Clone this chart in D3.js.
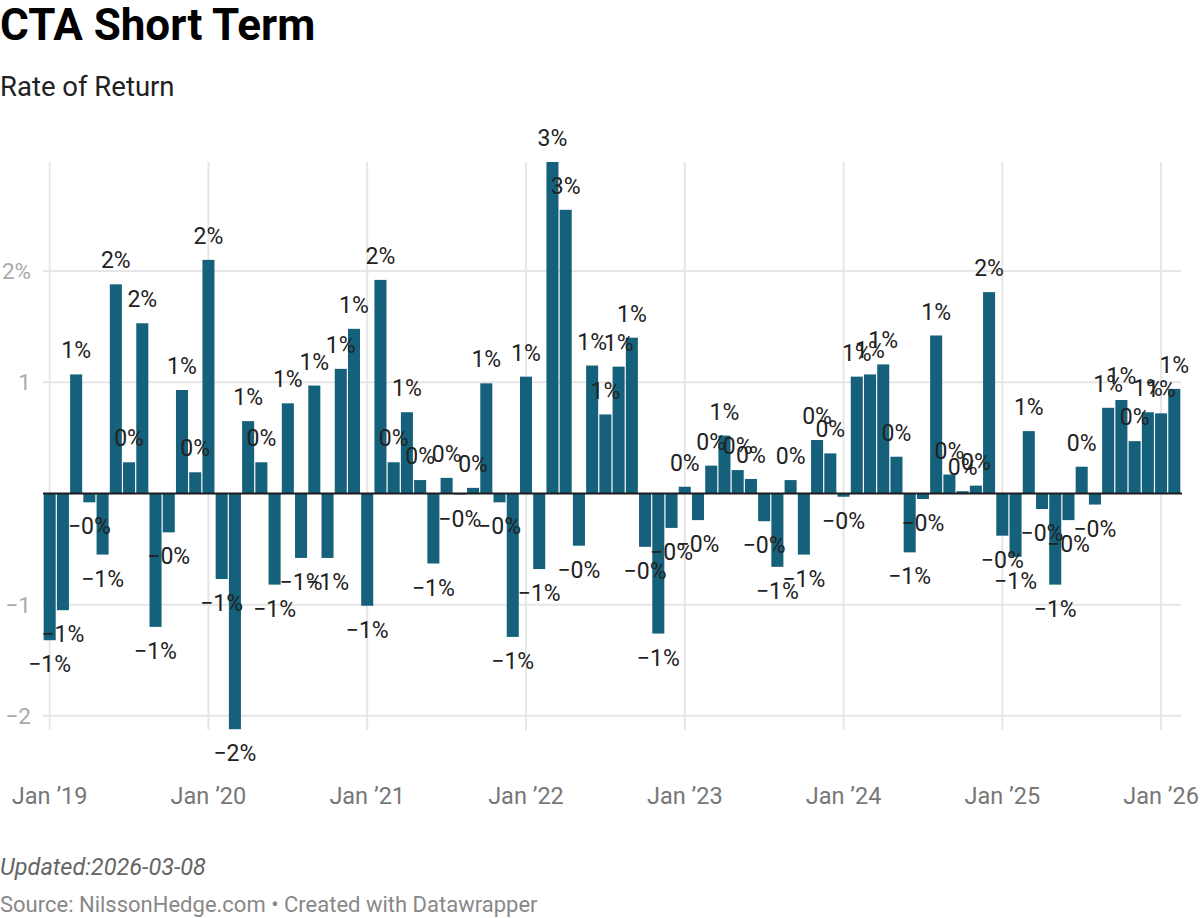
<!DOCTYPE html>
<html>
<head>
<meta charset="utf-8">
<script src="https://cdn.jsdelivr.net/npm/d3@7"></script>
<style>
  body { margin: 0; background: #fff; }
  svg { display: block; font-family: Roboto, 'Noto Sans', sans-serif; }
</style>
</head>
<body>
<div id="svg-container"></div>
<script>
const years = [2019, 2020, 2021, 2022, 2023, 2024, 2025, 2026];

const returns2019 = [-1.32, -1.05, 1.07, -0.08, -0.55, 1.88, 0.28, 1.53, -1.2, -0.35, 0.93, 0.19];
const returns2020 = [2.1, -0.77, -2.12, 0.65, 0.28, -0.82, 0.81, -0.58, 0.97, -0.58, 1.12, 1.48];
const returns2021 = [-1.01, 1.92, 0.28, 0.73, 0.12, -0.63, 0.14, -0.01, 0.05, 0.99, -0.08, -1.29];
const returns2022 = [1.05, -0.68, 2.98, 2.55, -0.47, 1.15, 0.71, 1.14, 1.4, -0.48, -1.26, -0.31];
const returns2023 = [0.06, -0.24, 0.25, 0.52, 0.21, 0.13, -0.25, -0.66, 0.12, -0.55, 0.48, 0.36];
const returns2024 = [-0.03, 1.05, 1.07, 1.16, 0.33, -0.53, -0.05, 1.42, 0.17, 0.02, 0.07, 1.81];
const returns2025 = [-0.38, -0.57, 0.56, -0.14, -0.82, -0.24, 0.24, -0.1, 0.77, 0.84, 0.47, 0.73];
const returns2026 = [0.72, 0.94];

const xTickLabels = ['Jan ’19', 'Jan ’20', 'Jan ’21', 'Jan ’22', 'Jan ’23', 'Jan ’24', 'Jan ’25', 'Jan ’26'];
const yTicks = [-2, -1, 1, 2];

const title = 'CTA Short Term';
const subtitle = 'Rate of Return';
const updated = 'Updated:2026-03-08';
const source = 'Source: NilssonHedge.com • Created with Datawrapper';

const yearlyReturns = [returns2019, returns2020, returns2021, returns2022,
  returns2023, returns2024, returns2025, returns2026];

// one row per month, key like 2019-01
const dataset = yearlyReturns.flatMap((values, i) =>
  values.map((v, m) => ({ key: `${years[i]}-${String(m + 1).padStart(2, '0')}`, year: years[i], month: m, value: v }))
);

const width = 1200;
const height = 918;

const svg = d3.select('#svg-container')
  .append('svg')
  .attr('width', width)
  .attr('height', height);

const xScale = d3
  .scaleBand()
  .domain(dataset.map(d => d.key))
  .range([43, 1181])
  .paddingInner(0.09)
  .paddingOuter(0.05);

const yScale = d3
  .scaleLinear()
  .domain(d3.extent(dataset, d => d.value))
  .range([729.2, 162]);

const xLeft = 43;
const xRight = 1181;

// header
svg.append('text')
  .attr('x', 0)
  .attr('y', 40)
  .attr('font-size', 44)
  .attr('font-weight', 700)
  .attr('fill', '#000')
  .text(title);

svg.append('text')
  .attr('x', 0)
  .attr('y', 96)
  .attr('font-size', 27.5)
  .attr('fill', '#222')
  .text(subtitle);

// horizontal grid
const yAxis = svg.append('g').attr('id', 'y-axis');

yAxis.selectAll('line')
  .data(yTicks)
  .enter()
  .append('line')
  .attr('x1', xLeft)
  .attr('x2', xRight)
  .attr('y1', d => yScale(d))
  .attr('y2', d => yScale(d))
  .attr('stroke', '#e6e6e6')
  .attr('stroke-width', 2);

yAxis.selectAll('text')
  .data(yTicks)
  .enter()
  .append('text')
  .attr('x', 31)
  .attr('y', d => yScale(d))
  .attr('dy', '0.35em')
  .attr('text-anchor', 'end')
  .attr('font-size', 22.5)
  .attr('fill', '#aaa')
  .text(d => (d === d3.max(yTicks) ? `${d}%` : d3.format('d')(d).replace('-', '\u2212')));

// vertical grid at each January
const januaries = dataset.filter(d => d.month === 0);

const xAxis = svg.append('g').attr('id', 'x-axis');

xAxis.selectAll('line')
  .data(januaries)
  .enter()
  .append('line')
  .attr('x1', d => xScale(d.key) + xScale.bandwidth() / 2)
  .attr('x2', d => xScale(d.key) + xScale.bandwidth() / 2)
  .attr('y1', yScale.range()[1])
  .attr('y2', yScale.range()[0] + 1)
  .attr('stroke', '#e6e6e6')
  .attr('stroke-width', 2);

xAxis.selectAll('text')
  .data(januaries)
  .enter()
  .append('text')
  .attr('x', d => xScale(d.key) + xScale.bandwidth() / 2)
  .attr('y', 804)
  .attr('text-anchor', 'middle')
  .attr('font-size', 23.5)
  .attr('fill', '#777')
  .text((d, i) => xTickLabels[i]);

// bars
svg.append('g')
  .selectAll('rect')
  .data(dataset)
  .enter()
  .append('rect')
  .attr('class', 'bar')
  .attr('x', d => xScale(d.key))
  .attr('y', d => yScale(Math.max(0, d.value)))
  .attr('width', xScale.bandwidth())
  .attr('height', d => Math.abs(yScale(d.value) - yScale(0)))
  .attr('fill', '#15607a');

// zero line
svg.append('line')
  .attr('x1', xLeft)
  .attr('x2', xRight + 1)
  .attr('y1', yScale(0))
  .attr('y2', yScale(0))
  .attr('stroke', '#1d1d1d')
  .attr('stroke-width', 2);

// value labels
const formatLabel = v => {
  const r = Math.round(Math.abs(v));
  return v < 0 ? `\u2212${r}%` : `${r}%`;
};

svg.append('g')
  .selectAll('text')
  .data(dataset)
  .enter()
  .append('text')
  .attr('x', d => xScale(d.key) + xScale.bandwidth() / 2)
  .attr('y', d => (d.value >= 0 ? yScale(d.value) - 24 : yScale(d.value) + 24))
  .attr('dy', '0.35em')
  .attr('text-anchor', 'middle')
  .attr('font-size', 23)
  .attr('fill', '#222')
  .text(d => formatLabel(d.value));

// footer
svg.append('text')
  .attr('x', 0)
  .attr('y', 875)
  .attr('font-size', 23.5)
  .attr('font-style', 'italic')
  .attr('fill', '#666')
  .text(updated);

svg.append('text')
  .attr('x', 0)
  .attr('y', 912)
  .attr('font-size', 22)
  .attr('fill', '#888')
  .text(source);
</script>
</body>
</html>
